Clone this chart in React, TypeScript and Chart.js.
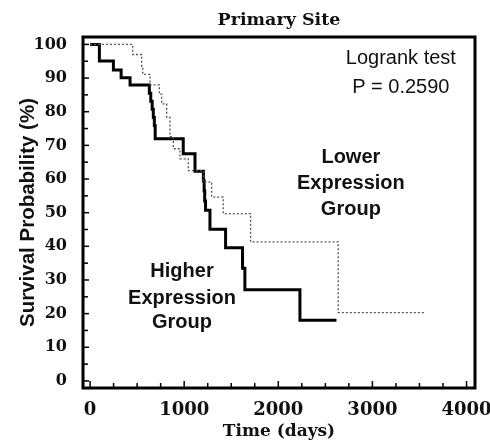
import React, { useEffect, useRef } from 'react';
import { Chart, registerables } from 'chart.js';

Chart.register(...registerables);

// Kaplan-Meier step points (time in days, survival in %)
const higherTimes = [0, 99, 248, 330, 425, 630, 645, 660, 672, 683, 692, 990, 1115, 1204, 1212, 1218, 1227, 1274, 1440, 1620, 1645, 2230, 2618];
const higherSurvival = [100, 95.1, 92.4, 90.1, 87.9, 85.5, 83.1, 80.7, 78.3, 75.9, 72, 67.5, 62.3, 59.5, 56.5, 53.5, 50.7, 45.1, 39.6, 33.5, 27.1, 18, 18];

const lowerTimes = [0, 453, 548, 560, 637, 736, 761, 814, 849, 885, 955, 1044, 1203, 1292, 1415, 1706, 2636, 3556];
const lowerSurvival = [100, 97, 93.5, 91.1, 88, 85.2, 82.3, 78.3, 72.6, 69, 66, 62.5, 59.1, 54.6, 49.7, 41.3, 20.3, 20.3];

const xTickValues = [0, 1000, 2000, 3000, 4000];
const yTickValues = [0, 10, 20, 30, 40, 50, 60, 70, 80, 90, 100];

const chartTitle = 'Primary Site';
const xTitle = 'Time (days)';
const yTitle = 'Survival Probability (%)';
const logrankLines = ['Logrank test', 'P = 0.2590'];
const lowerLabelLines = ['Lower', 'Expression', 'Group'];
const higherLabelLines = ['Higher', 'Expression', 'Group'];

const SERIF = "'DejaVu Serif', serif";
const SANS = "'Liberation Sans', Arial, sans-serif";

const framePlugin = {
  id: 'frame',
  afterDatasetsDraw(chart: any) {
    const { ctx, chartArea } = chart;
    const { left, right, top, bottom } = chartArea;
    const xs = chart.scales.x;
    const ys = chart.scales.y;
    ctx.save();
    ctx.strokeStyle = '#000';
    ctx.lineWidth = 3;
    ctx.strokeRect(left, top, right - left, bottom - top);
    ctx.lineWidth = 1.5;
    for (let v = 0; v <= 4000; v += 250) {
      const px = xs.getPixelForValue(v);
      const len = v % 1000 === 0 ? 7 : 5;
      ctx.beginPath();
      ctx.moveTo(px, bottom);
      ctx.lineTo(px, bottom - len);
      ctx.stroke();
    }
    for (let v = 0; v <= 100; v += 5) {
      const py = ys.getPixelForValue(v);
      const len = v % 10 === 0 ? 6 : 5;
      ctx.beginPath();
      ctx.moveTo(left, py);
      ctx.lineTo(left + len, py);
      ctx.stroke();
    }
    ctx.restore();
  },
};

const annotationPlugin = {
  id: 'annotations',
  afterDatasetsDraw(chart: any) {
    const { ctx } = chart;
    const xs = chart.scales.x;
    const ys = chart.scales.y;
    const drawLines = (lines: string[], x: number, ys0: number[], font: string) => {
      ctx.save();
      ctx.fillStyle = '#111';
      ctx.font = font;
      ctx.textAlign = 'center';
      ctx.textBaseline = 'middle';
      lines.forEach((t, i) => {
        ctx.fillText(t, xs.getPixelForValue(x), ys.getPixelForValue(ys0[i]));
      });
      ctx.restore();
    };
    drawLines(logrankLines, 3302, [95.9, 87.3], `20px ${SANS}`);
    drawLines(lowerLabelLines, 2771, [66.5, 58.8, 50.8], `bold 20px ${SANS}`);
    drawLines(higherLabelLines, 977, [32.4, 24.6, 17.5], `bold 20px ${SANS}`);
  },
};

export default function App() {
  const canvasRef = useRef<HTMLCanvasElement | null>(null);

  useEffect(() => {
    const canvas = canvasRef.current;
    if (!canvas) return;
    const chart = new Chart(canvas, {
      type: 'line',
      data: {
        datasets: [
          {
            label: 'Lower Expression Group',
            data: lowerTimes.map((t, i) => ({ x: t, y: lowerSurvival[i] })),
            stepped: 'before',
            borderColor: '#555',
            borderWidth: 1.3,
            borderDash: [2, 2],
            pointRadius: 0,
            fill: false,
          },
          {
            label: 'Higher Expression Group',
            data: higherTimes.map((t, i) => ({ x: t, y: higherSurvival[i] })),
            stepped: 'before',
            borderColor: '#000',
            borderWidth: 3,
            pointRadius: 0,
            fill: false,
          },
        ],
      },
      options: {
        responsive: false,
        animation: false,
        layout: { padding: { left: 0, right: 15, top: 0, bottom: 0 } },
        plugins: {
          legend: { display: false },
          tooltip: { enabled: false },
          title: {
            display: true,
            text: chartTitle,
            fullSize: false,
            color: '#111',
            font: { family: SERIF, weight: 'bold', size: 17.5 },
            padding: { top: 10, bottom: 6 },
          },
        },
        scales: {
          x: {
            type: 'linear',
            min: -75,
            max: 4090,
            grid: { display: false },
            border: { display: false },
            afterFit: (s: any) => { s.height = 55; s.paddingLeft = 0; s.paddingRight = 0; },
            afterBuildTicks: (s: any) => { s.ticks = xTickValues.map((v) => ({ value: v })); },
            ticks: {
              color: '#111',
              font: { family: SERIF, weight: 'bold', size: 18 },
              padding: 4,
              maxRotation: 0,
              autoSkip: false,
              callback: (v: any) => String(v),
            },
            title: {
              display: true,
              text: xTitle,
              color: '#111',
              font: { family: SERIF, weight: 'bold', size: 17 },
              padding: { top: 0, bottom: 1 },
            },
          },
          y: {
            type: 'linear',
            min: -2.1,
            max: 102.2,
            grid: { display: false },
            border: { display: false },
            afterFit: (s: any) => { s.width = 83; s.paddingTop = 0; s.paddingBottom = 0; },
            afterBuildTicks: (s: any) => { s.ticks = yTickValues.map((v) => ({ value: v })); },
            ticks: {
              color: '#111',
              font: { family: SERIF, weight: 'bold', size: 16 },
              padding: 8,
              autoSkip: false,
              callback: (v: any) => String(v),
            },
            title: {
              display: true,
              text: yTitle,
              color: '#111',
              font: { family: SANS, weight: 'bold', size: 20.5 },
              padding: { top: 16, bottom: 0 },
            },
          },
        },
      },
      plugins: [framePlugin, annotationPlugin],
    } as any);
    return () => chart.destroy();
  }, []);

  return (
    <div style={{ position: 'fixed', left: 0, top: 0, width: 490, height: 443, background: '#fff' }}>
      <canvas ref={canvasRef} width={490} height={443} />
    </div>
  );
}
